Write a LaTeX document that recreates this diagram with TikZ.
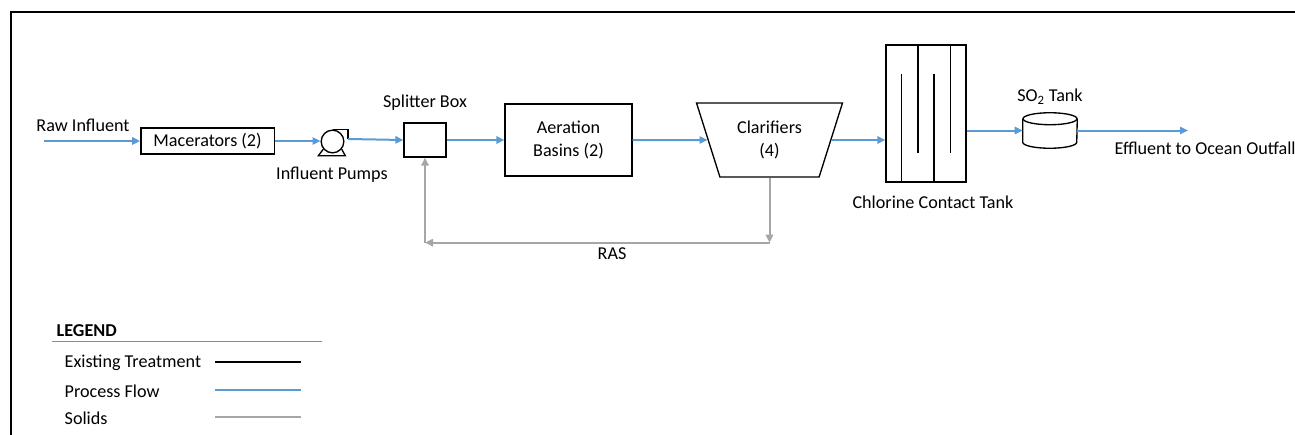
\documentclass[tikz,border=0pt]{standalone}
\usepackage{fontspec}
\setmainfont{Carlito}
\usepackage{xcolor}
\definecolor{FlowBlue}{HTML}{5B9BD5}
\definecolor{SolidsGray}{HTML}{A6A6A6}
\definecolor{RuleGray}{HTML}{8C8C8C}
\usepackage{tikz}
\usetikzlibrary{shapes.geometric, arrows.meta, positioning, calc}
\tikzset{
  % Box styles
  unitbox/.style={rectangle, draw=black, line width=1pt, fill=white, align=center, inner sep=2pt},
  clarbox/.style={trapezium, trapezium stretches=true, shape border rotate=180, trapezium angle=68, draw=black, line width=1pt, fill=white, align=center, minimum width=110.25pt, minimum height=55.5pt, inner sep=0pt},
  tanknode/.style={rectangle, minimum width=40.5pt, minimum height=26.25pt, inner sep=0pt},
  tankline/.style={draw=black, line width=1pt, fill=white},
  pumpnode/.style={circle, draw=black, line width=1pt, fill=white, minimum size=17pt, inner sep=0pt},
  % Arrow styles
  flowarrow/.style={->, >={Triangle[length=6pt, width=5.5pt]}, line width=1.5pt, FlowBlue},
  solidsarrow/.style={->, >={Triangle[length=6pt, width=5.5pt]}, line width=1.5pt, SolidsGray},
  % Legend lines
  existingline/.style={line width=1.5pt, black},
  flowline/.style={line width=1.5pt, FlowBlue},
  solidsline/.style={line width=1.5pt, SolidsGray}
}

\begin{document}
\begin{tikzpicture}[x=0.75pt, y=-0.75pt, font=\fontsize{13.6}{17}\selectfont]
  \useasboundingbox (0,0) rectangle (1295,435);
  % frame
  \draw[line width=1.5pt] (10.5,435) -- (10.5,12) -- (1295,12);

  % Process units
  \node[unitbox, minimum width=100pt, minimum height=19.5pt] (mac) at (207.5,141) {Macerators (2)};
  \node[pumpnode] (pump) at (332.5,141.5) {};
  \node[unitbox, minimum width=31.5pt, minimum height=25.5pt] (split) at (425,140) {};
  \node[unitbox, minimum width=95.25pt, minimum height=54pt] (aer) at (568.5,140) {Aeration\\Basins (2)};
  \node[clarbox] (clar) at (769.5,140) {Clarifiers\\(4)};
  \node[unitbox, minimum width=60pt, minimum height=102.75pt] (cct) at (926,113.5) {};
  \node[tanknode] (so2) at (1050,130.5) {};

  % pump body
  \draw[line width=1pt] (pump.north) -- ++(15.5,0) -- ++(0,9.5) coordinate (pumpout);
  \draw[line width=1pt] (pump.-140) -- ++(-5,6.5) -- ++(27,0) -- (pump.-40);

  % tank body
  \draw[tankline] ($(so2.north west)+(0,6)$) -- ($(so2.south west)+(0,-6)$)
    arc[start angle=180, end angle=360, x radius=20.25pt, y radius=4.5pt] -- ($(so2.north east)+(0,6)$);
  \draw[tankline] ($(so2.north)+(0,6)$) ellipse[x radius=20.25pt, y radius=4.5pt];

  % baffles
  \foreach \i in {1,3}
    \draw[line width=1pt] ($(cct.south west)!\i/5!(cct.south east)$) -- ++(0,-109);
  \foreach \i in {2,4}
    \draw[line width=1pt] ($(cct.north west)!\i/5!(cct.north east)$) -- ++(0,109);

  % Labels
  \node (rawlbl) at (83,125) {Raw Influent};
  \node (pumplbl) at (332,175) {Influent Pumps};
  \node (splitlbl) at (425,103) {Splitter Box};
  \node (cctlbl) at (933,202) {Chlorine Contact Tank};
  \node (so2lbl) at (1050,97) {SO\textsubscript{2} Tank};
  \node (raslbl) at (612,254) {RAS};
  \node[anchor=west] (efflbl) at (1110,148) {Effluent to Ocean Outfall};

  % Process flow
  \coordinate (rawin) at (44,141);
  \coordinate (effout) at (1188,130.5);
  \draw[flowarrow] (rawin) -- (mac.west);
  \draw[flowarrow] (mac.east) -- (mac.east -| pump.west);
  \draw[flowarrow] (pumpout) -- (split.west);
  \draw[flowarrow] (split.east) -- (aer.west);
  \draw[flowarrow] (aer.east) -- (clar.west);
  \draw[flowarrow] (clar.east) -- (clar.east -| cct.west);
  \draw[flowarrow] (so2.west -| cct.east) -- (so2.west);
  \draw[flowarrow] (so2.east) -- (effout);

  % Solids (RAS)
  \coordinate (rasR) at ($(clar.south)+(0,65)$);
  \coordinate (rasL) at (split.south |- rasR);
  \draw[solidsarrow] (clar.south) -- (rasR);
  \draw[solidsarrow] (rasR) -- (rasL);
  \draw[solidsarrow] (rasL) -- (split.south);

  % Legend
  \node[anchor=west, font=\fontsize{13.6}{17}\selectfont\bfseries] (legtitle) at (52,331) {LEGEND};
  \coordinate (legrule) at (52,341);
  \draw[RuleGray, line width=0.75pt] (legrule) -- ++(270,0);
  \foreach \txt/\sty/\y in {Existing Treatment/existingline/363, Process Flow/flowline/391, Solids/solidsline/418}
  {
    \node[anchor=west] (leg\y) at (60,\y) {\txt};
    \draw[\sty] (215,\y-1.5) -- ++(86,0);
  }
\end{tikzpicture}
\end{document}
